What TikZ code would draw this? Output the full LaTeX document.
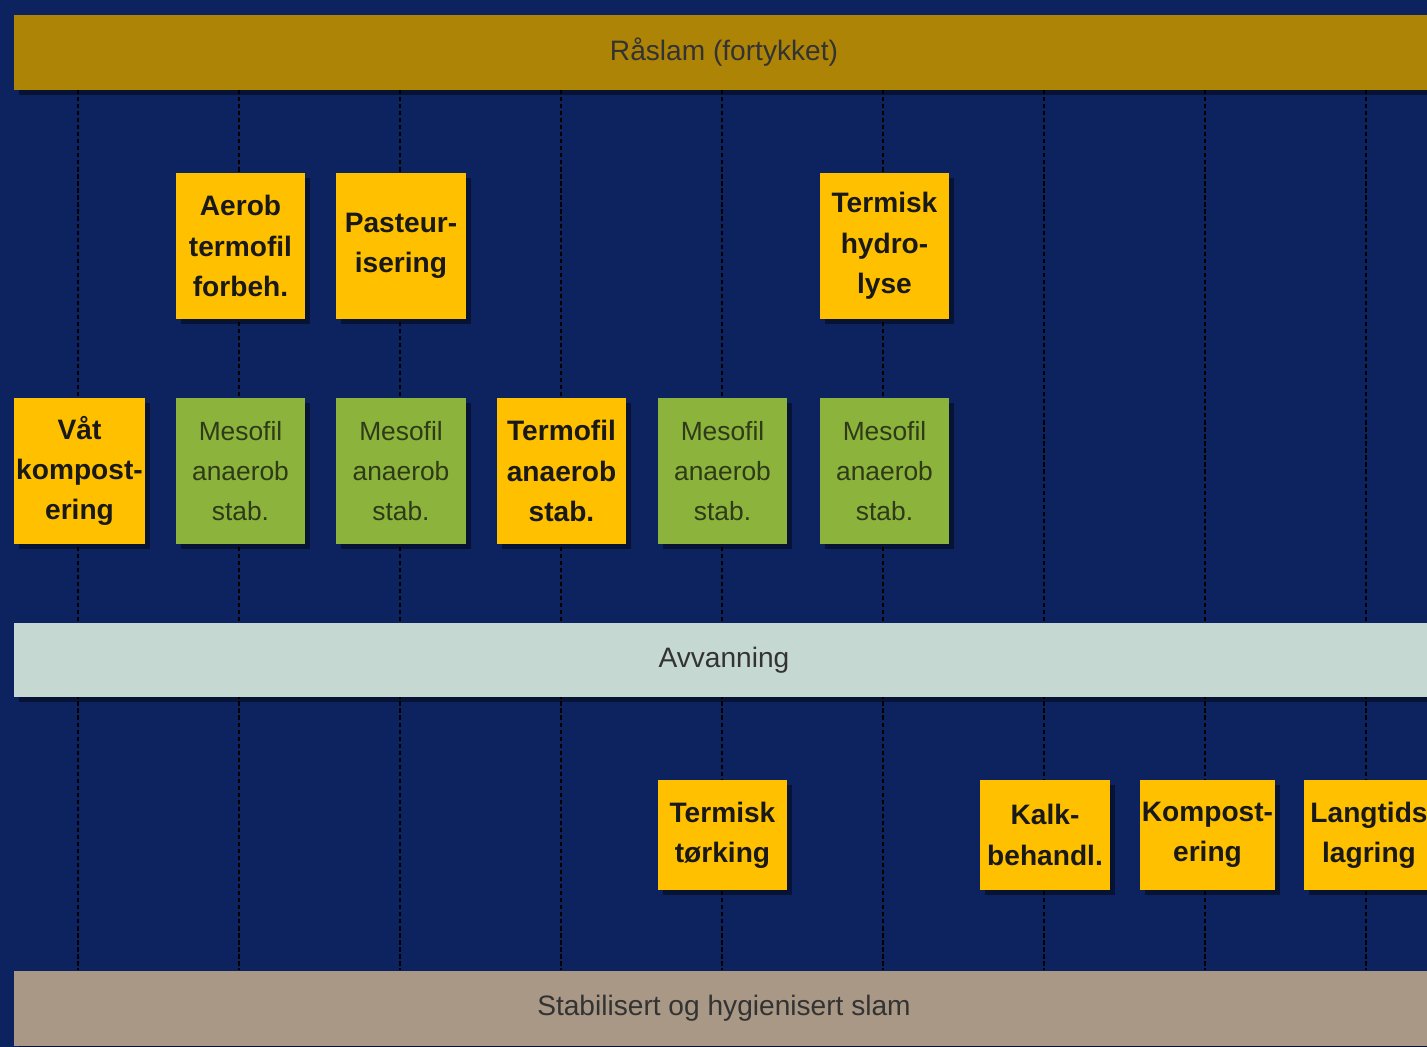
\documentclass[tikz,border=0pt]{standalone}
\usepackage{fontspec}
\setmainfont{Liberation Sans}
\usetikzlibrary{positioning, shadows}
\definecolor{navy}{HTML}{0C2360}
\definecolor{raagold}{HTML}{AE8406}
\definecolor{stepyellow}{HTML}{FFC000}
\definecolor{stepgreen}{HTML}{8CB33B}
\definecolor{avvgray}{HTML}{C6D8D2}
\definecolor{slamtaupe}{HTML}{A99885}
\definecolor{greentext}{HTML}{2E3A18}

\begin{document}
\begin{tikzpicture}[x=0.02cm, y=-0.02cm,
	shade box/.style={drop shadow={shadow xshift=0.1cm, shadow yshift=-0.1cm, opacity=0.45, fill=black}},
	bar/.style={shade box, inner sep=0, minimum width=28.4cm, minimum height=1.5cm, text=black!80, font=\fontsize{16}{20}\selectfont},
	yellowbox/.style={shade box, fill=stepyellow, inner sep=1pt, minimum width=2.6cm, minimum height=2.94cm, align=center, text=black!90, font=\fontsize{16}{23}\selectfont\bfseries},
	greenbox/.style={yellowbox, fill=stepgreen, text=greentext, font=\fontsize{15}{23}\selectfont},
	lowbox/.style={yellowbox, minimum height=2.2cm},
	colline/.style={black, line width=1.1pt, dash pattern=on 2.4pt off 1.6pt}]
	\fill[navy] (0, 0) rectangle (1427, 1047);
	\useasboundingbox (0, 0) rectangle (1427, 1047);
	\foreach \c in {0, ..., 8}
		\draw[colline] ({78+161*\c}, 90) -- ({78+161*\c}, 970);
	\node[bar, fill=raagold] (raslam) at (724, 52.5) {Råslam (fortykket)};
	\node[bar, fill=avvgray] (avvanning) at (724, 660) {Avvanning};
	\node[bar, fill=slamtaupe] (slam) at (724, 1008.5) {Stabilisert og hygienisert slam};
	% forbehandling
	\node[yellowbox] (aerob) at (240.5, 246) {Aerob\\termofil\\forbeh.};
	\node[yellowbox] (pasteur) at (401, 246) {Pasteur-\\isering};
	\node[yellowbox] (hydro) at (884.5, 246) {Termisk\\hydro-\\lyse};
	% stabilisering
	\node[yellowbox] (vat) at (79.5, 471) {Våt\\kompost-\\ering};
	\node[greenbox] (meso1) at (240.5, 471) {Mesofil\\anaerob\\stab.};
	\node[greenbox] (meso2) at (401, 471) {Mesofil\\anaerob\\stab.};
	\node[yellowbox] (termofil) at (561.5, 471) {Termofil\\anaerob\\stab.};
	\node[greenbox] (meso3) at (722.5, 471) {Mesofil\\anaerob\\stab.};
	\node[greenbox] (meso4) at (884.5, 471) {Mesofil\\anaerob\\stab.};
	% etterbehandling
	\node[lowbox] (torking) at (722.5, 835) {Termisk\\tørking};
	\node[lowbox] (kalk) at (1045, 835) {Kalk-\\behandl.};
	\node[lowbox] (kompost) at (1207.5, 835) {Kompost-\\ering};
	\node[lowbox] (lagring) at (1369, 835) {Langtids\\lagring};
\end{tikzpicture}
\end{document}
